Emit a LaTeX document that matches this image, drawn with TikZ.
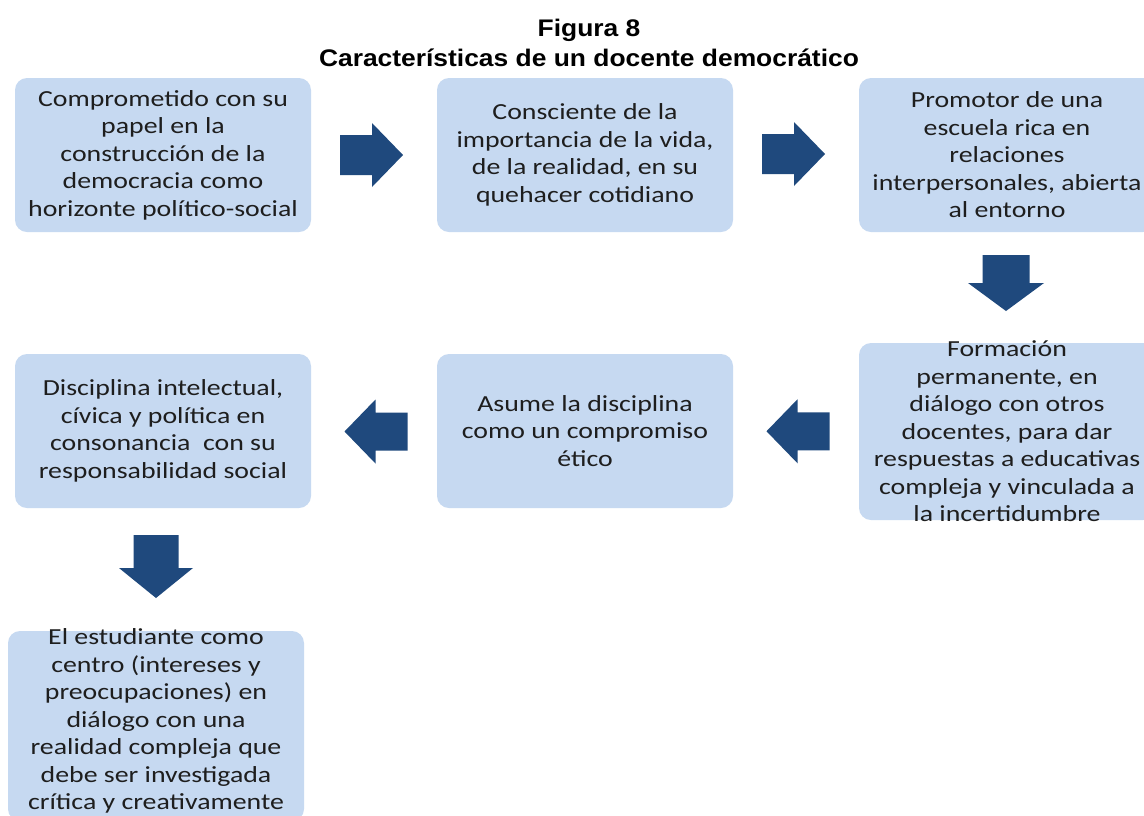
\documentclass[tikz,border=0pt]{standalone}
\usepackage{fontspec}
\setmainfont{Carlito}
\newfontfamily\boxfont[FakeStretch=1.21]{Carlito}
\newfontfamily\titlefont[FakeStretch=1.1]{Liberation Sans}
\usetikzlibrary{calc}
\definecolor{boxfill}{HTML}{C6D9F1}
\definecolor{arrowblue}{HTML}{1F497D}
\definecolor{txt}{HTML}{1E1E1E}
\tikzset{
  box/.style={fill=boxfill, rounded corners=12pt, minimum width=296pt, minimum height=154pt, inner sep=0pt, draw=none},
  boxtext/.style={align=center, inner sep=0pt, text=txt, font=\boxfont\fontsize{23}{27.5}\selectfont},
  titletext/.style={align=center, inner sep=0pt, font=\titlefont\bfseries\fontsize{24}{30}\selectfont},
  rarr/.pic={\fill[arrowblue] (-31.5,-20)--(0.5,-20)--(0.5,-32)--(31.5,0)--(0.5,32)--(0.5,20)--(-31.5,20)--cycle;},
  larr/.pic={\fill[arrowblue] (31.5,-19)--(-0.5,-19)--(-0.5,-32)--(-31.5,0)--(-0.5,32)--(-0.5,19)--(31.5,19)--cycle;},
  darrA/.pic={\fill[arrowblue] (-23.5,-28)--(-23.5,0)--(-38,0)--(0,28)--(38,0)--(23.5,0)--(23.5,-28)--cycle;},
  darrB/.pic={\fill[arrowblue] (-22.5,-31.5)--(-22.5,1.5)--(-37,1.5)--(0,31.5)--(37,1.5)--(22.5,1.5)--(22.5,-31.5)--cycle;},
}
\begin{document}
\begin{tikzpicture}[x=1pt,y=-1pt]
\useasboundingbox (0,0) rectangle (1144,815);
\clip (0,0) rectangle (1144,815);
\fill[white] (0,0) rectangle (1144,815);

\node[titletext] (title) at (589,42.5) {Figura 8\\Características de un docente democrático};

\node[box] (b1) at (163,155) {};
\node[boxtext] (t1) at (b1.center) {Comprometido con su\\papel en la\\construcción de la\\democracia como\\horizonte político-social};

\node[box] (b2) at (585,155) {};
\node[boxtext] (t2) at (b2.center) {Consciente de la\\importancia de la vida,\\de la realidad, en su\\quehacer cotidiano};

\node[box] (b3) at (1007,155) {};
\node[boxtext] (t3) at (b3.center) {Promotor de una\\escuela rica en\\relaciones\\interpersonales, abierta\\al entorno};

\node[box, minimum height=177pt] (b4) at (1007,431.5) {};
\node[boxtext] (t4) at (b4.center) {Formación\\permanente, en\\diálogo con otros\\docentes, para dar\\respuestas a educativas\\compleja y vinculada a\\la incertidumbre};

\node[box] (b5) at (585,431) {};
\node[boxtext] (t5) at (b5.center) {Asume la disciplina\\como un compromiso\\ético};

\node[box] (b6) at (163,431) {};
\node[boxtext] (t6) at (b6.center) {Disciplina intelectual,\\cívica y política en\\consonancia\ \ con su\\responsabilidad social};

\node[box, minimum height=190pt] (b7) at (156,726) {};
\node[boxtext] (t7) at (156,721) {El estudiante como\\centro (intereses y\\preocupaciones) en\\diálogo con una\\realidad compleja que\\debe ser investigada\\crítica y creativamente};

\pic at ($(b1.east)!0.5!(b2.west)+(-2.5,0)$) {rarr};
\pic at ($(b2.east)!0.5!(b3.west)+(-2.5,-1)$) {rarr};
\pic at ($(b3.south)!0.5!(b4.north)+(-1,-4.5)$) {darrA};
\pic at ($(b4.west)!0.5!(b5.east)+(2,0)$) {larr};
\pic at ($(b5.west)!0.5!(b6.east)+(2,0.5)$) {larr};
\pic at ($(b6.south)!0.5!(b7.north)+(-3.5,-3)$) {darrB};
\end{tikzpicture}
\end{document}
